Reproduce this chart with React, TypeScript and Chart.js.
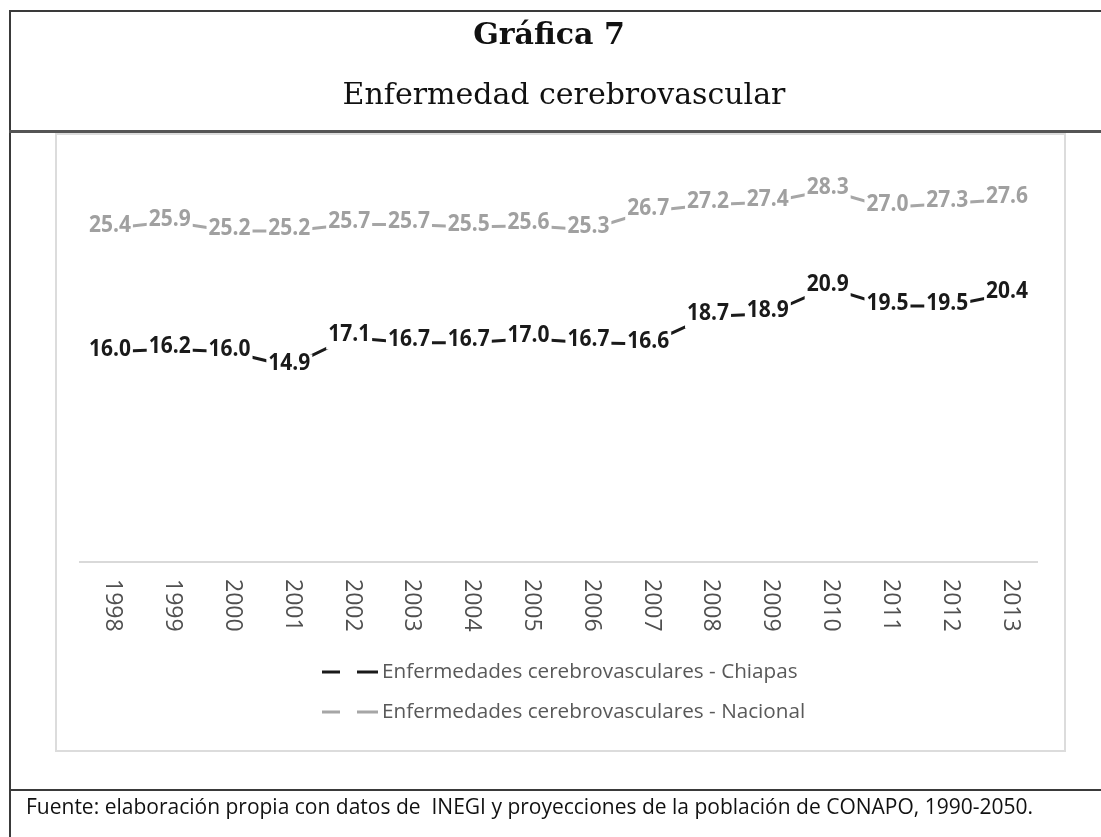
import React, { useEffect, useRef } from "react";
import { Chart, registerables } from "chart.js";

Chart.register(...registerables);

const years = ["1998", "1999", "2000", "2001", "2002", "2003", "2004", "2005", "2006", "2007", "2008", "2009", "2010", "2011", "2012", "2013"];
const chiapas = [16.0, 16.2, 16.0, 14.9, 17.1, 16.7, 16.7, 17.0, 16.7, 16.6, 18.7, 18.9, 20.9, 19.5, 19.5, 20.4];
const nacional = [25.4, 25.9, 25.2, 25.2, 25.7, 25.7, 25.5, 25.6, 25.3, 26.7, 27.2, 27.4, 28.3, 27.0, 27.3, 27.6];
const seriesNames = ["Enfermedades cerebrovasculares - Chiapas", "Enfermedades cerebrovasculares - Nacional"];
const seriesColors = ["#1a1a1a", "#a6a6a6"];
const labelColors = ["#1a1a1a", "#a0a0a0"];
const labelWeights = ["bold", "bold"];
const yMin = 0;
const yMax = 30;

const FONT = "'Open Sans', 'Noto Sans', sans-serif";

const decorPlugin = {
  id: "decor",
  afterDatasetsDraw(chart: any) {
    const ctx = chart.ctx as CanvasRenderingContext2D;
    ctx.save();
    chart.data.datasets.forEach((ds: any, di: number) => {
      const meta = chart.getDatasetMeta(di);
      ctx.font = `${labelWeights[di]} 21px ${FONT}`;
      ctx.textAlign = "center";
      ctx.textBaseline = "middle";
      meta.data.forEach((pt: any, i: number) => {
        const txt = Number(ds.data[i]).toFixed(1);
        const w = ctx.measureText(txt).width;
        ctx.fillStyle = "#ffffff";
        ctx.fillRect(pt.x - w / 2 - 2, pt.y - 12, w + 4, 24);
        ctx.fillStyle = labelColors[di];
        ctx.save();
        ctx.translate(pt.x, pt.y - 3);
        ctx.scale(1, 1.12);
        ctx.fillText(txt, 0, 0);
        ctx.restore();
      });
    });
    ctx.restore();
  },
  afterDraw(chart: any) {
    const ctx = chart.ctx as CanvasRenderingContext2D;
    const xs = chart.scales.x;
    ctx.save();
    // rotated year labels
    ctx.font = `23px ${FONT}`;
    ctx.fillStyle = "#505050";
    ctx.textAlign = "left";
    ctx.textBaseline = "middle";
    years.forEach((lab, i) => {
      const x = xs.getPixelForTick(i);
      ctx.save();
      ctx.translate(x + 3, xs.bottom + 17);
      ctx.rotate(Math.PI / 2);
      ctx.fillText(lab, 0, 0);
      ctx.restore();
    });
    // legend
    const rows = [672, 712];
    seriesNames.forEach((name, i) => {
      const y = rows[i];
      ctx.strokeStyle = seriesColors[i];
      ctx.lineWidth = 3;
      ctx.beginPath();
      ctx.moveTo(322, y);
      ctx.lineTo(340, y);
      ctx.moveTo(357, y);
      ctx.lineTo(378, y);
      ctx.stroke();
      ctx.font = `20.7px ${FONT}`;
      ctx.fillStyle = "#595959";
      ctx.textAlign = "left";
      ctx.textBaseline = "middle";
      ctx.fillText(name, 382, y);
    });
    ctx.restore();
  },
};

function ChartCanvas() {
  const ref = useRef<HTMLCanvasElement | null>(null);
  useEffect(() => {
    if (!ref.current) return;
    const chart = new Chart(ref.current, {
      type: "line",
      data: {
        labels: years,
        datasets: [
          {
            label: seriesNames[0],
            data: chiapas,
            borderColor: seriesColors[0],
            backgroundColor: seriesColors[0],
            borderWidth: 3,
            pointRadius: 0,
            tension: 0,
          },
          {
            label: seriesNames[1],
            data: nacional,
            borderColor: seriesColors[1],
            backgroundColor: seriesColors[1],
            borderWidth: 3,
            pointRadius: 0,
            tension: 0,
          },
        ],
      },
      options: {
        responsive: false,
        animation: false,
        devicePixelRatio: 1,
        layout: { padding: { left: 80, right: 64, top: 168, bottom: 275 } },
        plugins: { legend: { display: false }, tooltip: { enabled: false } },
        scales: {
          x: {
            type: "category",
            offset: true,
            grid: { display: false, drawTicks: false },
            border: { display: true, color: "#d9d9d9", width: 2 },
            ticks: { display: false },
            afterFit: (s: any) => {
              s.height = 0;
            },
          },
          y: { display: false, min: yMin, max: yMax },
        },
      },
      plugins: [decorPlugin],
    });
    return () => chart.destroy();
  }, []);
  return <canvas ref={ref} width={1101} height={837} style={{ position: "absolute", left: 0, top: 0, width: 1101, height: 837 }} />;
}

export default function App() {
  const line = "#3a3a3a";
  return (
    <div style={{ position: "absolute", left: 0, top: 0, width: 1101, height: 837, background: "#fff", overflow: "hidden" }}>
      {/* inner chart box */}
      <div style={{ position: "absolute", left: 55, top: 133, width: 1011, height: 619, border: "2px solid #dcdcdc", boxSizing: "border-box" }} />
      <ChartCanvas />
      {/* frame lines */}
      <div style={{ position: "absolute", left: 9, top: 10, width: 1092, height: 2, background: line }} />
      <div style={{ position: "absolute", left: 9, top: 10, width: 2, height: 827, background: line }} />
      <div style={{ position: "absolute", left: 9, top: 130, width: 1092, height: 3, background: "#555" }} />
      <div style={{ position: "absolute", left: 9, top: 789, width: 1092, height: 2, background: line }} />
      {/* titles */}
      <div style={{ position: "absolute", left: 549, top: 33, transform: "translate(-50%, -50%)", whiteSpace: "nowrap", fontFamily: "'DejaVu Serif', serif", fontWeight: "bold", fontSize: 30, color: "#111" }}>
        Gráfica 7
      </div>
      <div style={{ position: "absolute", left: 564, top: 93, transform: "translate(-50%, -50%)", whiteSpace: "nowrap", fontFamily: "'DejaVu Serif', serif", fontSize: 30, color: "#111" }}>
        Enfermedad cerebrovascular
      </div>
      {/* footer */}
      <div style={{ position: "absolute", left: 26, top: 806, transform: "translateY(-50%)", whiteSpace: "pre", fontFamily: FONT, fontSize: 21, color: "#111" }}>
        {"Fuente: elaboración propia con datos de  INEGI y proyecciones de la población de CONAPO, 1990-2050."}
      </div>
    </div>
  );
}
